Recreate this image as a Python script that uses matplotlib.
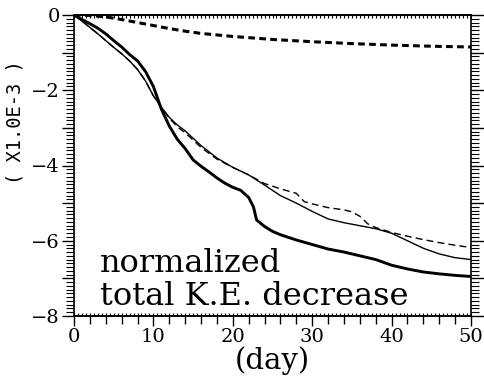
import numpy as np
import matplotlib
matplotlib.use("Agg")
import matplotlib.pyplot as plt
from matplotlib.ticker import MultipleLocator, FuncFormatter

# days and values (x 1.0E-3)
d_top = [0, 2, 4, 6, 8, 10, 12, 14, 16, 18, 20, 25, 30, 35, 40, 45, 50]
v_top = [0, -0.01, -0.05, -0.12, -0.2, -0.28, -0.36, -0.43, -0.49, -0.53,
         -0.57, -0.65, -0.71, -0.76, -0.8, -0.83, -0.85]

d_thick = [0, 1, 2, 3, 4, 5, 6, 7, 8, 9, 10, 11, 12, 13, 14, 15, 16, 17, 18,
           19, 20, 21, 22, 22.6, 23, 24, 25, 26, 28, 30, 32, 34, 36, 38, 40,
           42, 44, 46, 48, 50]
v_thick = [0, -0.12, -0.23, -0.35, -0.5, -0.68, -0.85, -1.05, -1.22, -1.5,
           -1.9, -2.5, -2.95, -3.3, -3.55, -3.85, -4.02, -4.17, -4.33, -4.47,
           -4.58, -4.66, -4.85, -5.1, -5.45, -5.62, -5.75, -5.84, -5.98, -6.1,
           -6.22, -6.3, -6.4, -6.5, -6.65, -6.75, -6.83, -6.88, -6.92, -6.95]

d_thin = [0, 1, 2, 3, 4, 5, 6, 7, 8, 9, 10, 11, 12, 13, 14, 16, 18, 20, 22,
          24, 26, 28, 30, 32, 34, 36, 38, 40, 42, 44, 46, 48, 50]
v_thin = [0, -0.16, -0.33, -0.5, -0.68, -0.86, -1.03, -1.22, -1.45, -1.75,
          -2.15, -2.45, -2.72, -2.92, -3.08, -3.47, -3.8, -4.05, -4.25, -4.52,
          -4.8, -5.0, -5.22, -5.42, -5.52, -5.6, -5.68, -5.8, -6.0, -6.2,
          -6.35, -6.45, -6.5]

d_dash = [0, 1, 2, 3, 4, 5, 6, 7, 8, 9, 10, 11, 12, 13, 14, 16, 18, 20, 22,
          24, 26, 28, 29, 30, 32, 34, 35, 36, 37, 38, 40, 42, 44, 46, 48, 50]
v_dash = [0, -0.16, -0.33, -0.5, -0.68, -0.86, -1.03, -1.22, -1.45, -1.75,
          -2.15, -2.45, -2.74, -2.97, -3.13, -3.52, -3.83, -4.05, -4.25, -4.48,
          -4.62, -4.74, -4.96, -5.02, -5.12, -5.18, -5.23, -5.35, -5.55, -5.65,
          -5.78, -5.88, -5.97, -6.05, -6.12, -6.18]

fig = plt.figure(figsize=(4.84, 3.82), dpi=100)
ax = fig.add_axes([74/484, 1-316/382, 397/484, 301/382])

ax.plot(d_top, v_top, color="black", lw=2.2, dashes=(2.2, 1.4))
ax.plot(d_thick, v_thick, color="black", lw=2.1)
ax.plot(d_thin, v_thin, color="black", lw=1.0)
ax.plot(d_dash, v_dash, color="black", lw=1.0, dashes=(5, 3))

ax.set_xlim(0, 50)
ax.set_ylim(-8, 0)
for s in ax.spines.values():
    s.set_linewidth(1.2)

ax.xaxis.set_major_locator(MultipleLocator(10))
ax.xaxis.set_minor_locator(MultipleLocator(2))
ax.yaxis.set_major_locator(MultipleLocator(1))
ax.yaxis.set_minor_locator(MultipleLocator(0.1))
ax.yaxis.set_major_formatter(FuncFormatter(
    lambda v, p: ("%d" % v).replace("-", "\u2212") if round(v) % 2 == 0 else ""))

ax.tick_params(axis="x", which="major", direction="out", length=7, width=1,
               labelsize=14, pad=1.5)
ax.tick_params(axis="x", which="minor", direction="out", length=6, width=1)
ax.tick_params(axis="y", which="major", direction="out", length=9, width=1,
               labelsize=14, left=True, right=True, pad=1)
ax.tick_params(axis="y", which="minor", direction="out", length=6, width=0.8,
               left=True, right=True)
for lab in ax.get_xticklabels() + ax.get_yticklabels():
    lab.set_family("DejaVu Serif")

# tiny inner ticks along top and bottom
for side in ("top", "bottom"):
    sec = ax.secondary_xaxis(side)
    sec.xaxis.set_major_locator(MultipleLocator(0.5))
    sec.tick_params(direction="in", length=2, width=0.8, labelbottom=False,
                    labeltop=False)
    sec.spines[side].set_linewidth(1.2)

ax.set_xlabel("(day)", family="DejaVu Serif", fontsize=21, va="top")
ax.xaxis.set_label_coords(0.5, -0.1)
ax.text(-0.149, 0.645, "( X1.0E-3 )", transform=ax.transAxes, rotation=90,
        family="DejaVu Sans Mono", fontsize=13.5, ha="center", va="center")

ax.text(3.3, -6.84, "normalized", family="DejaVu Serif", fontsize=23,
        va="baseline", ha="left")
ax.text(3.3, -7.71, "total K.E. decrease", family="DejaVu Serif", fontsize=23,
        va="baseline", ha="left")

fig.savefig("out.png", dpi=100)
